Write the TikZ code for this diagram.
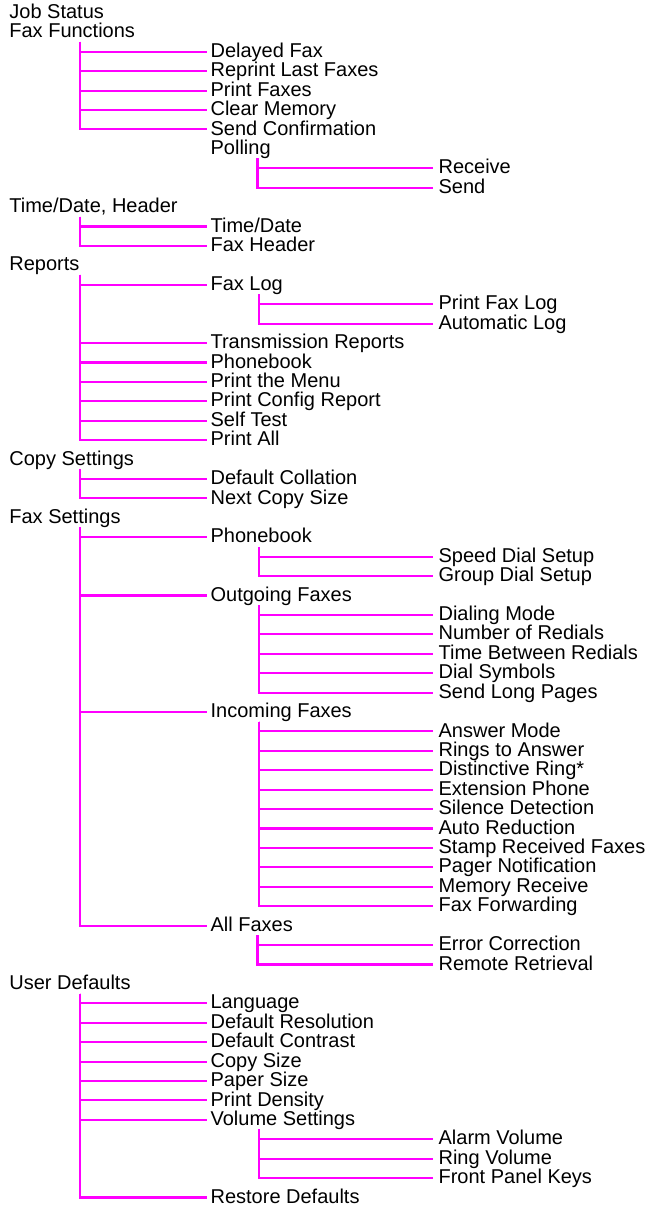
\documentclass[tikz,border=0pt]{standalone}
\usepackage{fontspec}
\setmainfont{Liberation Sans}
\definecolor{tmag}{RGB}{255,0,255}
\newcommand{\myrow}[1]{12.9+19.42*#1}
\begin{document}
\begin{tikzpicture}[x=1pt,y=-1pt,
  item/.style={anchor=west, inner ysep=0pt, text height=15pt, text depth=3.8pt,
    font=\fontsize{20}{20}\selectfont, text=black},
  lvlzero/.style={item, inner xsep=0pt},
  lvlone/.style={item, inner xsep=3.7pt},
  lvltwo/.style={item, inner xsep=5.4pt},
  conn/.style={draw=tmag, line width=2.1pt}]
\useasboundingbox (0,0) rectangle (652,1206);
\coordinate (tA) at (80.3,0);
\coordinate (tB) at (258.8,0);
\coordinate (tC) at (257.5,0);
\def\xa{9.2}
\def\xb{206.7}
\def\xc{433}
% level nodes
\node[lvlzero] (n0) at (\xa,{\myrow{0}}) {Job Status};
\node[lvlzero] (n1) at (\xa,{\myrow{1}}) {Fax Functions};
\node[lvlone] (n2) at (\xb,{\myrow{2}}) {Delayed Fax};
\node[lvlone] (n3) at (\xb,{\myrow{3}}) {Reprint Last Faxes};
\node[lvlone] (n4) at (\xb,{\myrow{4}}) {Print Faxes};
\node[lvlone] (n5) at (\xb,{\myrow{5}}) {Clear Memory};
\node[lvlone] (n6) at (\xb,{\myrow{6}}) {Send Confirmation};
\node[lvlone] (n7) at (\xb,{\myrow{7}}) {Polling};
\node[lvltwo] (n8) at (\xc,{\myrow{8}}) {Receive};
\node[lvltwo] (n9) at (\xc,{\myrow{9}}) {Send};
\node[lvlzero] (n10) at (\xa,{\myrow{10}}) {Time/Date, Header};
\node[lvlone] (n11) at (\xb,{\myrow{11}}) {Time/Date};
\node[lvlone] (n12) at (\xb,{\myrow{12}}) {Fax Header};
\node[lvlzero] (n13) at (\xa,{\myrow{13}}) {Reports};
\node[lvlone] (n14) at (\xb,{\myrow{14}}) {Fax Log};
\node[lvltwo] (n15) at (\xc,{\myrow{15}}) {Print Fax Log};
\node[lvltwo] (n16) at (\xc,{\myrow{16}}) {Automatic Log};
\node[lvlone] (n17) at (\xb,{\myrow{17}}) {Transmission Reports};
\node[lvlone] (n18) at (\xb,{\myrow{18}}) {Phonebook};
\node[lvlone] (n19) at (\xb,{\myrow{19}}) {Print the Menu};
\node[lvlone] (n20) at (\xb,{\myrow{20}}) {Print Config Report};
\node[lvlone] (n21) at (\xb,{\myrow{21}}) {Self Test};
\node[lvlone] (n22) at (\xb,{\myrow{22}}) {Print All};
\node[lvlzero] (n23) at (\xa,{\myrow{23}}) {Copy Settings};
\node[lvlone] (n24) at (\xb,{\myrow{24}}) {Default Collation};
\node[lvlone] (n25) at (\xb,{\myrow{25}}) {Next Copy Size};
\node[lvlzero] (n26) at (\xa,{\myrow{26}}) {Fax Settings};
\node[lvlone] (n27) at (\xb,{\myrow{27}}) {Phonebook};
\node[lvltwo] (n28) at (\xc,{\myrow{28}}) {Speed Dial Setup};
\node[lvltwo] (n29) at (\xc,{\myrow{29}}) {Group Dial Setup};
\node[lvlone] (n30) at (\xb,{\myrow{30}}) {Outgoing Faxes};
\node[lvltwo] (n31) at (\xc,{\myrow{31}}) {Dialing Mode};
\node[lvltwo] (n32) at (\xc,{\myrow{32}}) {Number of Redials};
\node[lvltwo] (n33) at (\xc,{\myrow{33}}) {Time Between Redials};
\node[lvltwo] (n34) at (\xc,{\myrow{34}}) {Dial Symbols};
\node[lvltwo] (n35) at (\xc,{\myrow{35}}) {Send Long Pages};
\node[lvlone] (n36) at (\xb,{\myrow{36}}) {Incoming Faxes};
\node[lvltwo] (n37) at (\xc,{\myrow{37}}) {Answer Mode};
\node[lvltwo] (n38) at (\xc,{\myrow{38}}) {Rings to Answer};
\node[lvltwo] (n39) at (\xc,{\myrow{39}}) {Distinctive Ring*};
\node[lvltwo] (n40) at (\xc,{\myrow{40}}) {Extension Phone};
\node[lvltwo] (n41) at (\xc,{\myrow{41}}) {Silence Detection};
\node[lvltwo] (n42) at (\xc,{\myrow{42}}) {Auto Reduction};
\node[lvltwo] (n43) at (\xc,{\myrow{43}}) {Stamp Received Faxes};
\node[lvltwo] (n44) at (\xc,{\myrow{44}}) {Pager Notification};
\node[lvltwo] (n45) at (\xc,{\myrow{45}}) {Memory Receive};
\node[lvltwo] (n46) at (\xc,{\myrow{46}}) {Fax Forwarding};
\node[lvlone] (n47) at (\xb,{\myrow{47}}) {All Faxes};
\node[lvltwo] (n48) at (\xc,{\myrow{48}}) {Error Correction};
\node[lvltwo] (n49) at (\xc,{\myrow{49}}) {Remote Retrieval};
\node[lvlzero] (n50) at (\xa,{\myrow{50}}) {User Defaults};
\node[lvlone] (n51) at (\xb,{\myrow{51}}) {Language};
\node[lvlone] (n52) at (\xb,{\myrow{52}}) {Default Resolution};
\node[lvlone] (n53) at (\xb,{\myrow{53}}) {Default Contrast};
\node[lvlone] (n54) at (\xb,{\myrow{54}}) {Copy Size};
\node[lvlone] (n55) at (\xb,{\myrow{55}}) {Paper Size};
\node[lvlone] (n56) at (\xb,{\myrow{56}}) {Print Density};
\node[lvlone] (n57) at (\xb,{\myrow{57}}) {Volume Settings};
\node[lvltwo] (n58) at (\xc,{\myrow{58}}) {Alarm Volume};
\node[lvltwo] (n59) at (\xc,{\myrow{59}}) {Ring Volume};
\node[lvltwo] (n60) at (\xc,{\myrow{60}}) {Front Panel Keys};
\node[lvlone] (n61) at (\xb,{\myrow{61}}) {Restore Defaults};
% connectors
\foreach \c in {2,3,4,5,6} \draw[conn] (n1.south -| tA) |- (n\c.west);
\foreach \c in {8,9} \draw[conn] (n7.south -| tC) |- (n\c.west);
\foreach \c in {11,12} \draw[conn] (n10.south -| tA) |- (n\c.west);
\foreach \c in {14,17,18,19,20,21,22} \draw[conn] (n13.south -| tA) |- (n\c.west);
\foreach \c in {15,16} \draw[conn] (n14.south -| tB) |- (n\c.west);
\foreach \c in {24,25} \draw[conn] (n23.south -| tA) |- (n\c.west);
\foreach \c in {27,30,36,47} \draw[conn] (n26.south -| tA) |- (n\c.west);
\foreach \c in {28,29} \draw[conn] (n27.south -| tB) |- (n\c.west);
\foreach \c in {31,32,33,34,35} \draw[conn] (n30.south -| tB) |- (n\c.west);
\foreach \c in {37,38,39,40,41,42,43,44,45,46} \draw[conn] (n36.south -| tB) |- (n\c.west);
\foreach \c in {48,49} \draw[conn] (n47.south -| tC) |- (n\c.west);
\foreach \c in {51,52,53,54,55,56,57,61} \draw[conn] (n50.south -| tA) |- (n\c.west);
\foreach \c in {58,59,60} \draw[conn] (n57.south -| tB) |- (n\c.west);
\end{tikzpicture}
\end{document}
